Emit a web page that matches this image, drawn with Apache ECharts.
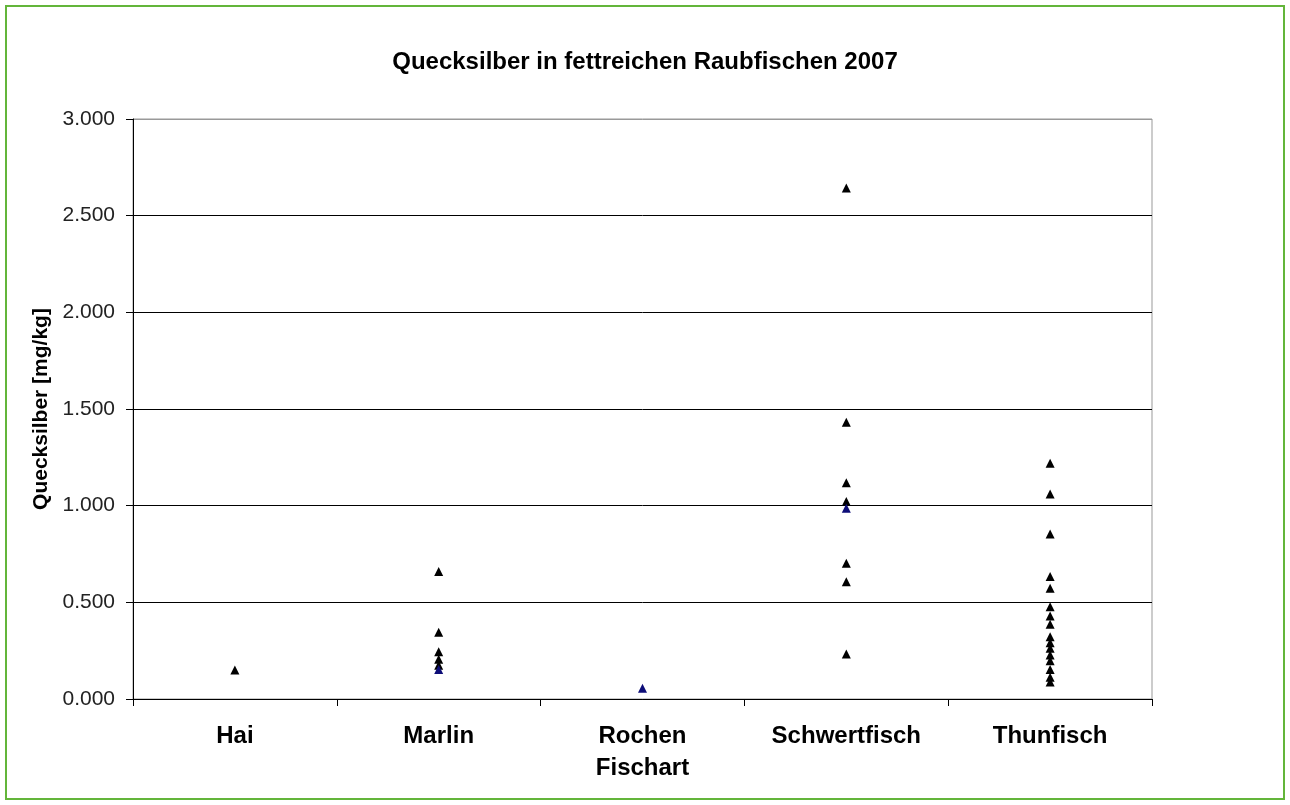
<!DOCTYPE html>
<html>
<head>
<meta charset="utf-8">
<script src="https://cdn.jsdelivr.net/npm/echarts@6/dist/echarts.min.js"></script>
<style>
  html, body { margin: 0; padding: 0; background: #fff; }
  #chart { width: 1290px; height: 805px; }
</style>
</head>
<body>
<div id="chart"></div>
<script>
// Fischarten
var categories = ['Hai', 'Marlin', 'Rochen', 'Schwertfisch', 'Thunfisch'];

// Messwerte (schwarz)
var hai = [0.150];
var marlin = [0.659, 0.345, 0.245, 0.205, 0.175];
var rochen = [];
var schwertfisch = [2.643, 1.431, 1.119, 1.021, 0.702, 0.607, 0.233];
var thunfisch = [1.219, 1.060, 0.853, 0.633, 0.573, 0.477, 0.429, 0.386, 0.322, 0.291,
                 0.262, 0.228, 0.198, 0.153, 0.112, 0.088];

// Messwerte (dunkelblau)
var blueHai = [];
var blueMarlin = [0.152];
var blueRochen = [0.055];
var blueSchwertfisch = [0.986];
var blueThunfisch = [];

var yTicks = [0, 0.5, 1, 1.5, 2, 2.5, 3];

function toPoints(lists) {
  var pts = [];
  lists.forEach(function (list, i) {
    list.forEach(function (v) { pts.push([categories[i], v]); });
  });
  return pts;
}

var blackData = toPoints([hai, marlin, rochen, schwertfisch, thunfisch]);
var blueData = toPoints([blueHai, blueMarlin, blueRochen, blueSchwertfisch, blueThunfisch]);

var chart = echarts.init(document.getElementById('chart'));
var font = 'Arial, "Liberation Sans", sans-serif';

chart.setOption({
  animation: false,
  backgroundColor: '#fff',
  title: {
    text: 'Quecksilber in fettreichen Raubfischen 2007',
    left: 'center',
    top: 45,
    textStyle: { fontFamily: font, fontSize: 24, fontWeight: 'bold', color: '#000' }
  },
  graphic: [{
    type: 'rect',
    shape: { x: 6, y: 6, width: 1278, height: 793 },
    style: { fill: 'none', stroke: '#63b53a', lineWidth: 2 },
    silent: true
  }],
  grid: {
    left: 133, top: 119, right: 138, bottom: 106,
    show: true, borderColor: '#999', borderWidth: 1, backgroundColor: '#fff'
  },
  xAxis: {
    type: 'category',
    data: categories,
    boundaryGap: true,
    name: 'Fischart',
    nameLocation: 'middle',
    nameGap: 57,
    nameTextStyle: { fontFamily: font, fontSize: 24, fontWeight: 'bold', color: '#000' },
    axisLine: { lineStyle: { color: '#000', width: 1 } },
    axisTick: { show: true, length: 7, alignWithLabel: false, lineStyle: { color: '#000' } },
    axisLabel: { fontFamily: font, fontSize: 24, fontWeight: 'bold', color: '#000', margin: 25 },
    splitLine: { show: false }
  },
  yAxis: {
    type: 'value',
    min: yTicks[0],
    max: yTicks[yTicks.length - 1],
    interval: 0.5,
    name: 'Quecksilber [mg/kg]',
    nameLocation: 'middle',
    nameGap: 81,
    nameRotate: 90,
    nameTextStyle: { fontFamily: font, fontSize: 21, fontWeight: 'bold', color: '#000' },
    axisLine: { show: true, lineStyle: { color: '#000', width: 1 } },
    axisTick: { show: true, length: 7, inside: false, lineStyle: { color: '#000' } },
    axisLabel: {
      fontFamily: font, fontSize: 21, color: '#222', margin: 18,
      formatter: function (v) { return v.toFixed(3); }
    },
    splitLine: {
      show: true,
      lineStyle: { color: ['#000', '#000', '#000', '#000', '#000', '#000', '#999'], width: 1 }
    }
  },
  series: [{
    name: 'Werte',
    type: 'scatter',
    symbol: 'triangle',
    symbolSize: 9,
    itemStyle: { color: '#000', opacity: 1 },
    data: blackData
  }, {
    name: 'Werte 2',
    type: 'scatter',
    symbol: 'triangle',
    symbolSize: 9,
    itemStyle: { color: '#0d0d78', opacity: 1 },
    data: blueData
  }]
});
</script>
</body>
</html>
